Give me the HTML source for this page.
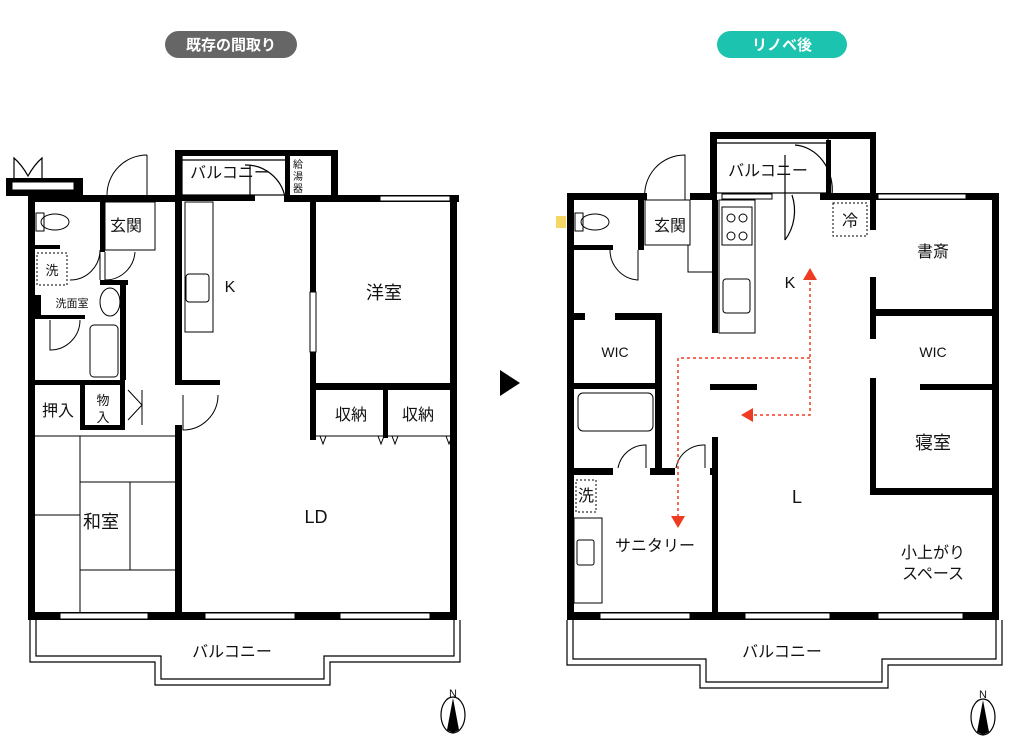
<!DOCTYPE html>
<html><head><meta charset="utf-8"><style>
body{margin:0;background:#fff;}
svg text{font-family:"Liberation Sans","Noto Sans CJK JP",sans-serif;fill:#111;}
</style></head><body>
<svg width="1024" height="748" viewBox="0 0 1024 748" xmlns="http://www.w3.org/2000/svg">
<rect width="1024" height="748" fill="#fff"/>
<rect x="165" y="31" width="132" height="27" rx="13.5" fill="#666"/>
<text x="231" y="50" font-size="15" font-weight="bold" text-anchor="middle" style="fill:#fff">既存の間取り</text>
<rect x="717" y="31" width="130" height="27" rx="13.5" fill="#1cc3ae"/>
<text x="782" y="50" font-size="15" font-weight="bold" text-anchor="middle" style="fill:#fff">リノベ後</text>
<polygon points="500,370 520,383 500,396" fill="#000"/>

<g fill="none" stroke="#000" stroke-width="1.2">
<path d="M30,620 V662 H155 V685 H330 V662 H460 V620"/>
<path d="M36,620 V656 H161 V679 H324 V656 H454 V620"/>
<path d="M567,620 V665 H700 V688 H888 V665 H1002 V620"/>
<path d="M573,620 V659 H706 V682 H882 V659 H996 V620"/>
<rect x="182" y="155" width="105" height="40"/>
<path d="M182,160 H287"/>
<path d="M245,165 A40,40 0 0 1 285,197"/>
<path d="M250,165 V197"/>
<path d="M14,178 V158 Q22,165 28,176 Q34,165 42,158 V178"/>
<rect x="716" y="138" width="112" height="55"/>
<path d="M716,143 H828"/>
<path d="M792,195 A40,45 0 0 1 785,240"/><path d="M785,155 V240"/>
<path d="M795,145 A40,45 0 0 1 832,195"/>
</g>

<g fill="#000">
<rect x="28" y="195" width="7" height="425"/>
<rect x="28" y="195" width="154" height="7"/>
<rect x="175" y="150" width="7" height="230"/>
<rect x="175" y="150" width="163" height="6"/>
<rect x="331" y="150" width="7" height="52"/>
<rect x="285" y="150" width="5" height="48"/>
<rect x="175" y="195" width="80" height="6"/>
<rect x="284" y="195" width="175" height="7"/>
<rect x="450" y="195" width="7" height="425"/>
<rect x="310" y="200" width="6" height="240"/>
<rect x="310" y="383" width="147" height="7"/>
<rect x="383" y="383" width="5" height="55"/>
<rect x="175" y="380" width="45" height="5"/>
<rect x="175" y="425" width="7" height="190"/>
<rect x="28" y="612" width="429" height="8"/>
<rect x="6" y="178" width="77" height="18"/>
<rect x="100" y="200" width="5" height="52"/>
<rect x="35" y="245" width="25" height="4"/>
<rect x="100" y="280" width="28" height="5"/>
<rect x="120" y="280" width="6" height="100"/>
<rect x="35" y="295" width="6" height="20"/>
<rect x="35" y="315" width="50" height="4"/>
<rect x="35" y="380" width="90" height="5"/>
<rect x="80" y="385" width="5" height="45"/>
<rect x="120" y="385" width="5" height="45"/>
<rect x="80" y="425" width="45" height="5"/>
<rect x="567" y="193" width="7" height="427"/>
<rect x="567" y="193" width="80" height="7"/>
<rect x="690" y="193" width="26" height="7"/>
<rect x="710" y="132" width="7" height="68"/>
<rect x="710" y="132" width="166" height="7"/>
<rect x="870" y="132" width="6" height="98"/>
<rect x="826" y="140" width="5" height="60"/>
<rect x="820" y="193" width="56" height="7"/>
<rect x="876" y="193" width="122" height="7"/>
<rect x="992" y="193" width="7" height="427"/>
<rect x="870" y="277" width="6" height="62"/>
<rect x="876" y="309" width="116" height="7"/>
<rect x="920" y="384" width="72" height="6"/>
<rect x="870" y="378" width="6" height="117"/>
<rect x="870" y="488" width="122" height="7"/>
<rect x="638" y="200" width="6" height="50"/>
<rect x="573" y="245" width="40" height="5"/>
<rect x="573" y="313" width="12" height="7"/>
<rect x="615" y="313" width="47" height="7"/>
<rect x="655" y="313" width="7" height="162"/>
<rect x="573" y="383" width="85" height="6"/>
<rect x="573" y="468" width="40" height="7"/>
<rect x="650" y="468" width="25" height="7"/>
<rect x="710" y="468" width="8" height="7"/>
<rect x="712" y="437" width="6" height="180"/>
<rect x="712" y="200" width="6" height="133"/>
<rect x="710" y="384" width="47" height="6"/>
<rect x="567" y="612" width="432" height="8"/>
</g>
<rect x="12" y="182" width="62" height="8" fill="#fff" stroke="#000" stroke-width="1"/>

<g fill="#fff" stroke="#000" stroke-width="1">
<rect x="60" y="613" width="88" height="6"/><rect x="205" y="613" width="90" height="6"/><rect x="340" y="613" width="90" height="6"/>
<rect x="600" y="613" width="90" height="6"/><rect x="745" y="613" width="85" height="6"/><rect x="878" y="613" width="85" height="6"/>
<rect x="380" y="196" width="70" height="5"/><rect x="878" y="194" width="88" height="5"/>
<rect x="310" y="292" width="6" height="60"/>
<rect x="722" y="194" width="50" height="5"/>
</g>
<g fill="none" stroke="#000" stroke-width="1">
<rect x="185" y="202" width="28" height="130"/>
<rect x="186" y="274" width="23" height="28" rx="3"/>
<path d="M147,155 V195 M147,155 A40,40 0 0 0 107,195"/>
<rect x="105" y="202" width="50" height="48"/>
<path d="M105,252 V280 A30,30 0 0 0 135,252"/>
<path d="M70,280 A30,30 0 0 0 100,250 M100,250 V280"/>
<ellipse cx="55" cy="222" rx="14" ry="8"/><rect x="36" y="213" width="8" height="18"/>
<rect x="37" y="253" width="30" height="32" stroke-dasharray="2,2"/>
<ellipse cx="110" cy="302" rx="10" ry="14"/>
<rect x="90" y="325" width="28" height="52" rx="4"/>
<path d="M50,320 V350 A30,30 0 0 0 80,320"/>
<path d="M183,395 V430 A35,35 0 0 0 218,395"/>
<path d="M128,390 L142,405 L128,420 M142,390 V425"/>
<path d="M35,436 H178 M80,436 V612 M35,515 H80 M80,482 H178 M80,570 H178 M130,482 V570"/>
<path d="M310,436 H455 M320,436 l3,8 3,-8 M378,436 l3,8 3,-8 M392,436 l3,8 3,-8 M446,436 l3,8 3,-8"/>
<rect x="719" y="200" width="36" height="133"/>
<rect x="722" y="207" width="30" height="38"/>
<circle cx="731" cy="218" r="4"/><circle cx="743" cy="218" r="4"/><circle cx="731" cy="236" r="4"/><circle cx="743" cy="236" r="4"/>
<rect x="723" y="279" width="27" height="34" rx="3"/>
<rect x="833" y="203" width="34" height="33" stroke-dasharray="2,2"/>
<path d="M645,200 A40,40 0 0 1 685,155 V200"/>
<rect x="645" y="200" width="45" height="45"/>
<path d="M688,245 V272 H712"/>
<path d="M610,250 A30,30 0 0 0 638,280 V250"/>
<ellipse cx="595" cy="222" rx="14" ry="8"/><rect x="575" y="213" width="8" height="18"/>
<rect x="578" y="393" width="75" height="38" rx="5"/>
<path d="M618,468 A28,28 0 0 1 646,445 V468 M676,468 A28,28 0 0 1 705,445 V468"/>
<rect x="576" y="480" width="20" height="32" stroke-dasharray="2,2"/>
<rect x="574" y="518" width="28" height="85"/>
<rect x="577" y="540" width="17" height="25" rx="2"/>
</g>
<rect x="556" y="216" width="10" height="12" fill="#f5d766"/>
<g stroke="#ee3b22" stroke-width="1.5" fill="none" stroke-dasharray="3,3">
<path d="M810,282 V415 H752"/>
<path d="M810,358 H678 V518"/>
</g>
<polygon points="810,268 803,280 817,280" fill="#ee3b22"/>
<polygon points="741,415 753,408 753,422" fill="#ee3b22"/>
<polygon points="678,528 671,516 685,516" fill="#ee3b22"/>
<g fill="none" stroke="#000" stroke-width="1.2"><ellipse cx="453" cy="715" rx="12" ry="18"/><ellipse cx="983" cy="717" rx="12" ry="18"/></g>
<polygon points="453,698 447,730 453,733 459,730" fill="#000"/>
<polygon points="983,700 977,732 983,735 989,732" fill="#000"/>
<g font-size="16">
<text x="230" y="292" text-anchor="middle">K</text>
<text x="384" y="299" font-size="18" text-anchor="middle">洋室</text>
<text x="126" y="231" text-anchor="middle">玄関</text>
<text x="52" y="275" font-size="13" text-anchor="middle">洗</text>
<text x="72" y="307" font-size="11" text-anchor="middle">洗面室</text>
<text x="58" y="416" text-anchor="middle">押入</text>
<text x="103" y="405" font-size="13" text-anchor="middle">物</text>
<text x="103" y="422" font-size="13" text-anchor="middle">入</text>
<text x="351" y="420" text-anchor="middle">収納</text>
<text x="418" y="420" text-anchor="middle">収納</text>
<text x="101" y="528" font-size="18" text-anchor="middle">和室</text>
<text x="316" y="523" font-size="18" text-anchor="middle">LD</text>
<text x="230" y="178" text-anchor="middle">バルコニー</text>
<text x="298" y="168" font-size="10" text-anchor="middle">給</text>
<text x="298" y="180" font-size="10" text-anchor="middle">湯</text>
<text x="298" y="192" font-size="10" text-anchor="middle">器</text>
<text x="232" y="657" text-anchor="middle">バルコニー</text>
<text x="453" y="697" font-size="11" text-anchor="middle">N</text>
<text x="768" y="176" text-anchor="middle">バルコニー</text>
<text x="670" y="231" text-anchor="middle">玄関</text>
<text x="850" y="226" text-anchor="middle">冷</text>
<text x="790" y="288" text-anchor="middle">K</text>
<text x="933" y="257" text-anchor="middle">書斎</text>
<text x="615" y="357" font-size="14" text-anchor="middle">WIC</text>
<text x="933" y="357" font-size="14" text-anchor="middle">WIC</text>
<text x="933" y="449" font-size="18" text-anchor="middle">寝室</text>
<text x="797" y="503" font-size="18" text-anchor="middle">L</text>
<text x="586" y="501" text-anchor="middle">洗</text>
<text x="655" y="551" text-anchor="middle">サニタリー</text>
<text x="933" y="558" text-anchor="middle">小上がり</text>
<text x="933" y="579" text-anchor="middle">スペース</text>
<text x="782" y="657" text-anchor="middle">バルコニー</text>
<text x="983" y="698" font-size="11" text-anchor="middle">N</text>
</g>
</svg>
</body></html>
